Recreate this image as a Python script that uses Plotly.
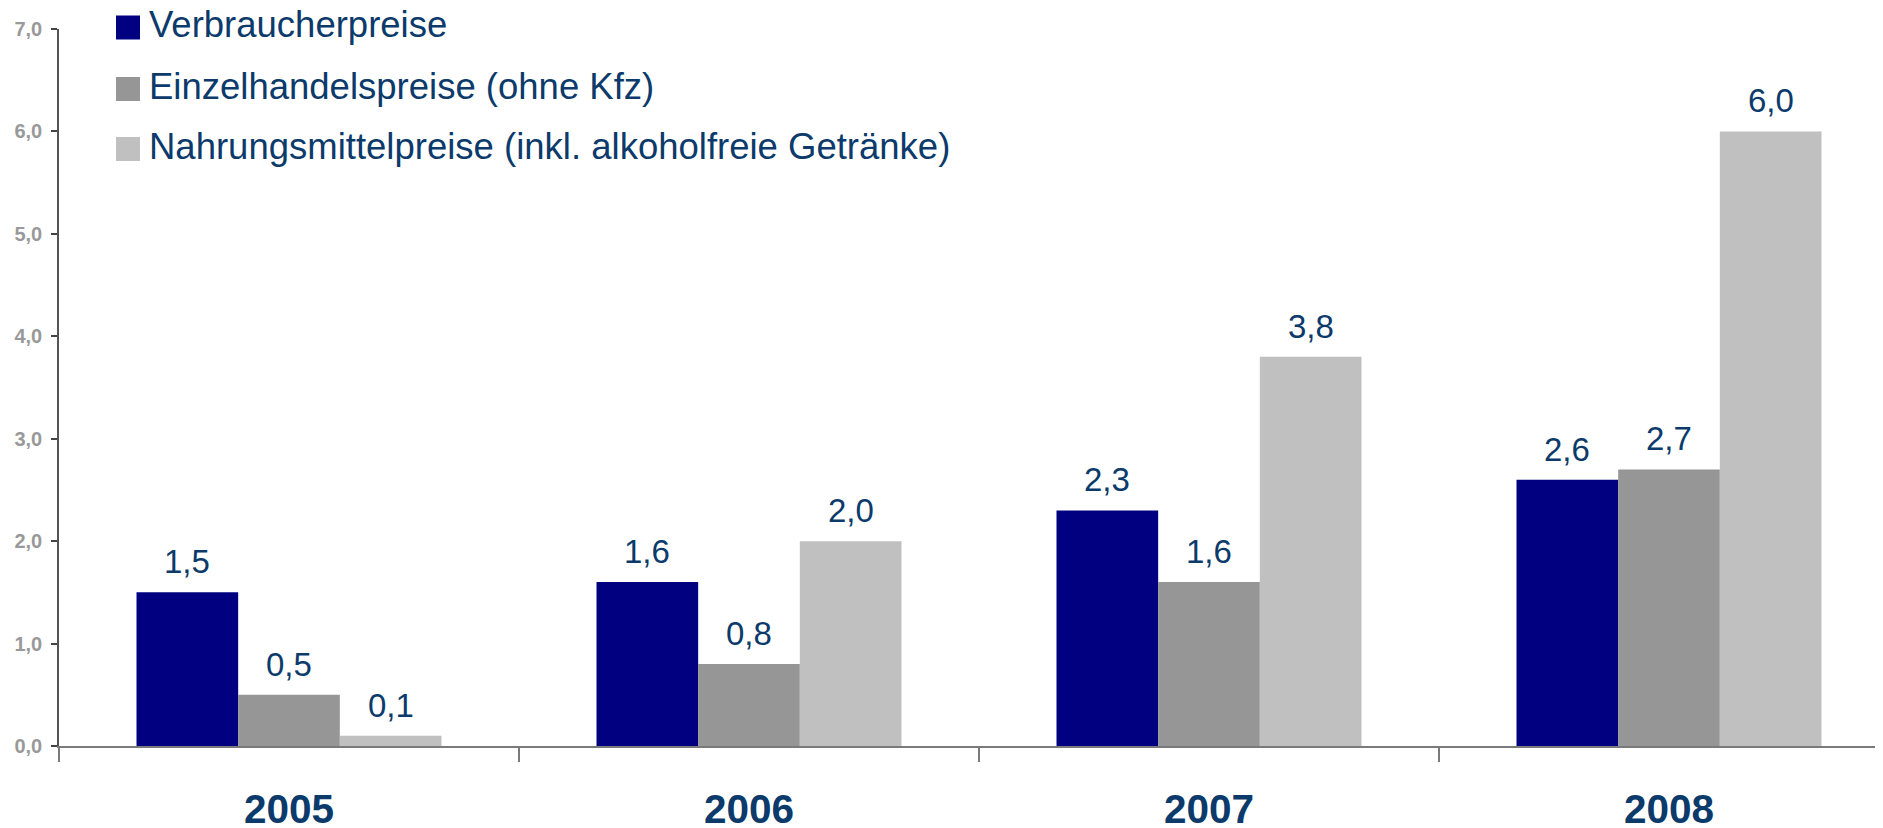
import plotly.graph_objects as go

years = ["2005", "2006", "2007", "2008"]
series_names = [
    "Verbraucherpreise",
    "Einzelhandelspreise (ohne Kfz)",
    "Nahrungsmittelpreise (inkl. alkoholfreie Getränke)",
]
verbraucher = [1.5, 1.6, 2.3, 2.6]
einzelhandel = [0.5, 0.8, 1.6, 2.7]
nahrungsmittel = [0.1, 2.0, 3.8, 6.0]
colors = ["#000080", "#969696", "#C0C0C0"]
y_ticks = [0, 1, 2, 3, 4, 5, 6, 7]

W, H = 1883, 828
OFF = 8  # default page body margin offsets the figure
# target plot area in page pixels: left 59, top 29, bottom 746, right 1883
ML = 59 - OFF
MT = 29 - OFF
MB = H - (746 - OFF)
MR = OFF
TEXT = "#0B3A6B"
FONT = "Liberation Sans, Arial, sans-serif"

values = [verbraucher, einzelhandel, nahrungsmittel]
xpos = list(range(len(years)))
bargap = 0.337
bw = (1 - bargap) / 3

fig = go.Figure()
for name, vals, col in zip(series_names, values, colors):
    fig.add_trace(go.Bar(x=xpos, y=vals, name=name, marker=dict(color=col, line=dict(width=0)),
                         showlegend=False))

# value labels
for j, vals in enumerate(values):
    for i, v in enumerate(vals):
        fig.add_annotation(x=i + (j - 1) * bw, y=v, xref="x", yref="y",
                           text=f"{v:.1f}".replace(".", ","), showarrow=False,
                           yanchor="bottom", yshift=10,
                           font=dict(family=FONT, size=33, color=TEXT))

# custom legend (positions given in page pixels)
pw = W - ML - MR
ph = H - MT - MB
def px2x(p):
    return (p - OFF - ML) / pw
def px2y(p):
    return (H - MB - (p - OFF)) / ph

row_centers = [27.5, 89, 149]
for name, col, cy in zip(series_names, colors, row_centers):
    fig.add_shape(type="rect", xref="paper", yref="paper",
                  x0=px2x(116), x1=px2x(140), y0=px2y(cy + 12), y1=px2y(cy - 12),
                  fillcolor=col, line=dict(width=0))
    fig.add_annotation(x=px2x(147), y=px2y(cy - 3), xref="paper", yref="paper",
                       text=name, showarrow=False, xanchor="left", yanchor="middle",
                       font=dict(family=FONT, size=36.5, color=TEXT))

fig.update_layout(
    width=W, height=H,
    margin=dict(l=ML, r=MR, t=MT, b=MB, pad=0, autoexpand=False),
    paper_bgcolor="white", plot_bgcolor="white",
    barmode="group", bargap=bargap, bargroupgap=0,
    separators=",.",
    showlegend=False,
    font=dict(family=FONT),
)
fig.update_xaxes(
    automargin=False,
    range=[-0.5, pw / 460 - 0.5],
    tickvals=xpos, ticktext=years, ticks="",
    tickfont=dict(family=FONT, size=40.5, color=TEXT, weight="bold"),
    ticklabelstandoff=26,
    showline=True, linecolor="#7a7a7a", linewidth=2,
    showgrid=False, zeroline=False,
    minor=dict(tick0=-0.5, dtick=1, ticks="outside", ticklen=14, tickcolor="#7a7a7a", tickwidth=2, showgrid=False),
)
fig.update_yaxes(
    automargin=False,
    range=[0, 7], tickvals=y_ticks, tickformat=".1f",
    ticks="outside", ticklen=6, tickcolor="#444", tickwidth=1.5,
    tickfont=dict(family=FONT, size=20, color="#999999", weight="bold"),
    ticklabelstandoff=5,
    showline=True, linecolor="#555", linewidth=1.5,
    showgrid=False, zeroline=False,
)
fig.write_html("out.html")
